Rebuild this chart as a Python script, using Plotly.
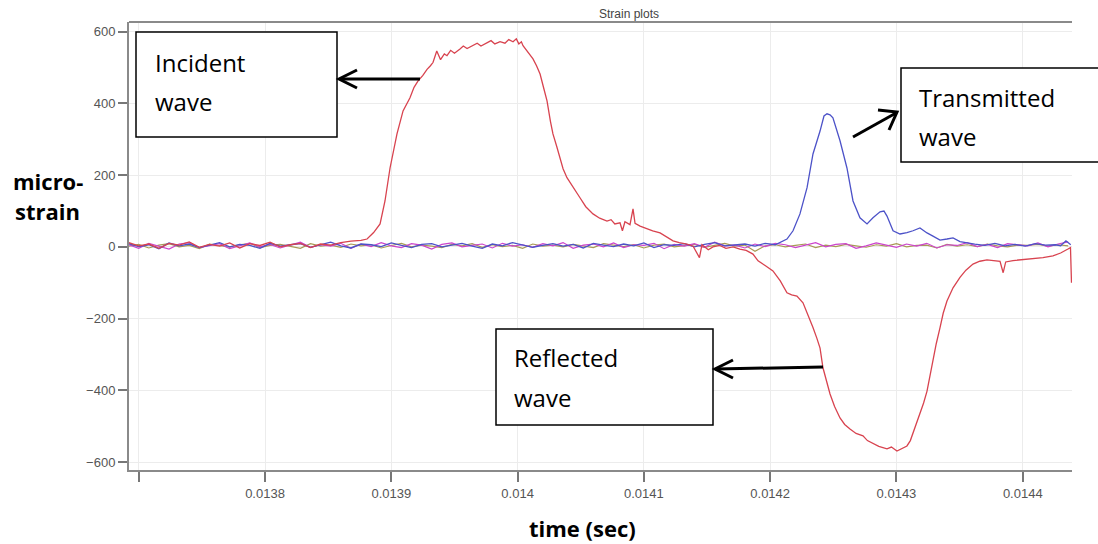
import plotly.graph_objects as go

# ---------------- data ----------------
# sampling grid for the quiet (near-zero) channels
base_start = 0.013692
base_step = 0.000008

magenta_vals = [6, -4, 10, 2, -6, 8, 12, -2, 4, 9, -5, 3, 11, 0, 7, -3, 5, 13, -1, 6,
                2, 10, -4, 8, 1, 12, 3, -2, 9, 5, -6, 7, 11, 0, 4, 8, -3, 10, 2, 6,
                -1, 9, 3, 12, -4, 5, 8, 0, 11, -2, 6, 4, 10, -5, 7, 2, 9, -1, 13, 3,
                5, -3, 8, 1, 10, 6, -2, 4, 12, 0, 7, 9, -4, 3, 11, 5, -1, 8, 2, 10,
                -3, 6, 4, 12, 1, 7, -2, 9, 5, 3, 11, 0, 8, 14]
olive_vals = [2, 7, -3, 5, 9, 0, 4, -5, 8, 3, -1, 6, 10, -2, 4, 7, 1, -4, 9, 2,
              5, -1, 8, 3, 6, -3, 4, 10, 0, 5, 2, -2, 7, 3, 9, -1, 6, 1, 4, -4,
              8, 2, 5, 0, 7, 3, -2, 9, 4, 1, 6, -3, 5, 8, 0, 3, 7, -1, 4, 10,
              2, 5, -12, 3, 6, 0, 4, 8, -2, 5, 1, 7, 3, -1, 6, 2, 9, 0, 4, 5,
              -3, 7, 2, 6, 1, 8, 3, 0, 5, 4, 7, 2, 6, 3]

# transmitted channel: quiet part then the pulse
blue_base_vals = [9, 1, 6, -5, 11, 3, 8, -2, 5, 12, 0, 7, 4, -4, 10, 2, 6, 9, -1, 5,
                  13, 3, -3, 8, 6, 1, 11, 4, -2, 7, 9, 0, 5, 10, 2, -4, 8, 3, 12, 6,
                  -1, 4, 9, 2, 7, -3, 10, 5, 1, 8, 3, 11, -2, 6, 4, 9, 0, 7, 12, 3,
                  5, 8, 2, 10, 6]
blue_pulse_t = [0.0142102, 0.0142133, 0.0142181, 0.0142236, 0.0142292, 0.0142339,
                0.0142395, 0.0142426, 0.0142450, 0.0142474, 0.0142497, 0.0142553,
                0.0142608, 0.0142656, 0.0142711, 0.0142767, 0.0142814, 0.0142870,
                0.0142901, 0.0142925, 0.0142973, 0.0143028, 0.0143083, 0.0143131,
                0.0143186, 0.0143242, 0.0143289, 0.0143345, 0.0143400, 0.0143448,
                0.0143503, 0.0143559, 0.0143620, 0.0143700, 0.0143780, 0.0143860,
                0.0143940, 0.0144020, 0.0144100, 0.0144180, 0.0144260, 0.0144300,
                0.0144342, 0.0144380]
blue_pulse_v = [17, 22, 45, 92, 165, 259, 323, 365, 371, 368, 360, 296, 220, 128, 81,
                64, 81, 98, 100, 86, 45, 36, 40, 45, 53, 39, 30, 19, 22, 25, 15, 11,
                8, 4, 10, 3, 7, 2, 9, 5, 6, 3, 17, 6]

# incident / reflected channel
red_base_vals = [12, 3, 8, -4, 10, 5, 14, -1, 7, 2, 11, -3, 9, 4, 13, 0, 6, 10, -2, 8,
                 5, 12, 16, 18]
red_wave_t = [0.0138808, 0.0138860, 0.0138911, 0.0138950, 0.0138990, 0.0139045,
              0.0139093, 0.0139148, 0.0139180, 0.0139212, 0.0139250, 0.0139283,
              0.0139310, 0.0139330, 0.0139360, 0.0139390, 0.0139420, 0.0139441,
              0.0139470, 0.0139500, 0.0139544, 0.0139570, 0.0139600, 0.0139647,
              0.0139680, 0.0139710, 0.0139758, 0.0139790, 0.0139820, 0.0139861,
              0.0139900, 0.0139930, 0.0139964, 0.0139990, 0.0140010, 0.0140030,
              0.0140043, 0.0140080, 0.0140122, 0.0140150, 0.0140178, 0.0140205,
              0.0140233, 0.0140260, 0.0140280, 0.0140310, 0.0140336, 0.0140360,
              0.0140391, 0.0140440, 0.0140494, 0.0140540, 0.0140597, 0.0140650,
              0.0140708, 0.0140740, 0.0140770, 0.0140811, 0.0140830, 0.0140850,
              0.0140890, 0.0140914, 0.0140930, 0.0140970, 0.0141025, 0.0141070,
              0.0141128, 0.0141170, 0.0141231, 0.0141280, 0.0141341, 0.0141390,
              0.0141440, 0.0141460, 0.0141510, 0.0141547, 0.0141600, 0.0141650,
              0.0141706, 0.0141760, 0.0141810, 0.0141864, 0.0141904, 0.0141960,
              0.0142022, 0.0142080, 0.0142133, 0.0142170, 0.0142212, 0.0142260,
              0.0142300, 0.0142339, 0.0142370, 0.0142395, 0.0142418, 0.0142445,
              0.0142474, 0.0142510, 0.0142553, 0.0142590, 0.0142632, 0.0142680,
              0.0142735, 0.0142770, 0.0142814, 0.0142860, 0.0142925, 0.0142960,
              0.0143004, 0.0143040, 0.0143083, 0.0143110, 0.0143131, 0.0143160,
              0.0143186, 0.0143215, 0.0143242, 0.0143265, 0.0143289, 0.0143315,
              0.0143345, 0.0143370, 0.0143400, 0.0143448, 0.0143503, 0.0143550,
              0.0143606, 0.0143660, 0.0143717, 0.0143770, 0.0143820, 0.0143845,
              0.0143865, 0.0143923, 0.0144000, 0.0144081, 0.0144160, 0.0144239,
              0.0144300, 0.0144358, 0.0144378, 0.0144386]
red_wave_v = [22, 40, 64, 128, 220, 315, 379, 416, 445, 463, 478, 495,
              505, 514, 546, 522, 538, 533, 548, 540, 552, 560, 553, 561,
              568, 560, 570, 575, 566, 572, 568, 578, 572, 580, 566, 572,
              561, 545, 524, 505, 482, 445, 407, 350, 315, 280, 249, 218,
              193, 165, 137, 112, 92, 80, 72, 76, 64, 67, 45, 70,
              62, 106, 66, 58, 50, 45, 39, 30, 17, 12, 8, 2,
              -30, 6, -8, 0, 4, -4, 0, -6, -10, -20, -39, -52,
              -67, -95, -128, -134, -137, -156, -190, -225, -255, -282, -337, -375,
              -410, -445, -477, -495, -508, -520, -527, -540, -547, -556, -563, -558,
              -569, -562, -555, -540, -519, -495, -466, -435, -402, -360, -318, -270,
              -225, -185, -151, -114, -85, -65, -48, -40, -36, -38, -40, -72,
              -42, -38, -36, -33, -30, -25, -17, -6, -2, -100]

x_tickvals = [0.0137, 0.0138, 0.0139, 0.0140, 0.0141, 0.0142, 0.0143, 0.0144]
x_ticktext = ["", "0.0138", "0.0139", "0.014", "0.0141", "0.0142", "0.0143", "0.0144"]
y_tickvals = [-600, -400, -200, 0, 200, 400, 600]

# ---------------- build ----------------
def grid(n):
    return [round(base_start + base_step * i, 7) for i in range(n)]

W, H = 1098, 544
ML, MR, MT, MB = 129, 26, 22, 74
PW, PH = W - ML - MR, H - MT - MB

def P(x, y):
    return (x - ML) / PW, (H - MB - y) / PH

fig = go.Figure()
fig.add_trace(go.Scatter(x=grid(len(olive_vals)), y=olive_vals, mode="lines",
                         line=dict(color="#a89a55", width=1.2), showlegend=False))
fig.add_trace(go.Scatter(x=grid(len(magenta_vals)), y=magenta_vals, mode="lines",
                         line=dict(color="#cc44cc", width=1.2), showlegend=False))
fig.add_trace(go.Scatter(x=grid(len(blue_base_vals)) + blue_pulse_t,
                         y=blue_base_vals + blue_pulse_v, mode="lines",
                         line=dict(color="#4c52c8", width=1.3), showlegend=False))
fig.add_trace(go.Scatter(x=grid(len(red_base_vals)) + red_wave_t,
                         y=red_base_vals + red_wave_v, mode="lines",
                         line=dict(color="#d8434f", width=1.3), showlegend=False))

shapes = []
# top border line
shapes.append(dict(type="line", xref="paper", yref="paper", x0=0, x1=1, y0=1, y1=1,
                   line=dict(color="#8a8a8a", width=2)))

def box(x0, y0, x1, y1):
    a = P(x0, y0); b = P(x1, y1)
    shapes.append(dict(type="rect", xref="paper", yref="paper", x0=a[0], y0=b[1],
                       x1=b[0], y1=a[1], fillcolor="white",
                       line=dict(color="black", width=1.5), layer="above"))

def poly(pts, width=3):
    path = ""
    for i, (x, y) in enumerate(pts):
        px, py = P(x, y)
        path += ("M" if i == 0 else "L") + f"{px:.5f},{py:.5f} "
    shapes.append(dict(type="path", xref="paper", yref="paper", path=path,
                       line=dict(color="black", width=width), layer="above"))

box(136, 32, 337, 137)
box(901, 68, 1110, 162)
box(496, 329, 713, 425)

# arrows
poly([(420, 79), (340, 79)])
poly([(357, 70), (339, 79), (357, 88)])
poly([(823, 367), (716, 369)])
poly([(733, 360), (715, 369), (733, 378)])
poly([(853, 137), (896, 113)])
poly([(878, 110), (897, 112), (889, 130)])

annotations = []

def txt(x, y, s, size, bold=False, color="black", family="Open Sans", xanchor="left"):
    px, py = P(x, y)
    annotations.append(dict(x=px, y=py, xref="paper", yref="paper", text=s,
                            showarrow=False, xanchor=xanchor, yanchor="middle",
                            font=dict(size=size, color=color, family=family,
                                      weight="bold" if bold else "normal")))

txt(153, 62, "Incident", 24)
txt(153, 101, "wave", 24)
txt(917, 97, "Transmitted", 24)
txt(917, 136, "wave", 24)
txt(512, 357, "Reflected", 24)
txt(512, 397, "wave", 24)
txt(11, 181, "micro-", 22, bold=True)
txt(13, 211, "strain", 22, bold=True)
txt(582, 528, "time (sec)", 22, bold=True, xanchor="center")
txt(629, 14, "Strain plots", 12, color="#444444", family="Arial", xanchor="center")

fig.update_layout(
    width=W, height=H,
    margin=dict(l=ML, r=MR, t=MT, b=MB, pad=0),
    paper_bgcolor="white", plot_bgcolor="white",
    shapes=shapes, annotations=annotations,
    xaxis=dict(range=[0.0136923, 0.0144390], tickvals=x_tickvals, ticktext=x_ticktext,
               showgrid=True, gridcolor="#ececec", gridwidth=1, zeroline=False,
               showline=True, linecolor="#8a8a8a", linewidth=2,
               ticks="outside", ticklen=10, tickwidth=1.5, tickcolor="#777",
               tickfont=dict(family="Arial", size=13, color="#555")),
    yaxis=dict(range=[-622, 627], tickvals=y_tickvals,
               showgrid=True, gridcolor="#ececec", gridwidth=1, zeroline=False,
               showline=True, linecolor="#8a8a8a", linewidth=2,
               ticks="outside", ticklen=9, tickwidth=1.5, tickcolor="#777",
               ticklabelstandoff=0,
               tickfont=dict(family="Arial", size=13, color="#555")),
)

fig.write_html("out.html", post_script="document.body.style.margin='0';",
               config={"displayModeBar": False})
